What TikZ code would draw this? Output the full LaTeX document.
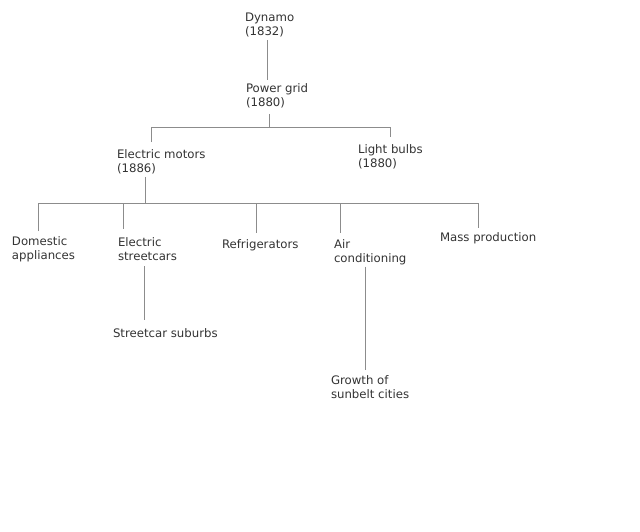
\documentclass[tikz,border=0pt]{standalone}
\usepackage{fontspec}
\setmainfont{DejaVu Sans}
\definecolor{txtgray}{HTML}{333333}
\definecolor{linegray}{HTML}{8C8C8C}
\begin{document}
\begin{tikzpicture}[x=0.75pt,y=-0.75pt,
  lbl/.style={anchor=north west,inner sep=0pt,outer sep=0pt,align=left,
    text=txtgray,font=\fontsize{8.8}{10.5}\selectfont},
  conn/.style={draw=linegray,line width=0.75pt}]
\useasboundingbox (0,0) rectangle (640,532);
% nodes (top-left corners)
\node[lbl] (dyn) at (245,13.3) {Dynamo\\(1832)};
\node[lbl] (pg)  at (246,83.3) {Power grid\\(1880)};
\node[lbl] (em)  at (117,149.3) {Electric motors\\(1886)};
\node[lbl] (lb)  at (358,144.3) {Light bulbs\\(1880)};
\node[lbl] (da)  at (12,236.3) {Domestic\\appliances};
\node[lbl] (es)  at (118,237.3) {Electric\\streetcars};
\node[lbl] (rf)  at (222,239.3) {Refrigerators};
\node[lbl] (ac)  at (334,239.3) {Air\\conditioning};
\node[lbl] (mp)  at (440,232.3) {Mass production};
\node[lbl] (ss)  at (113,328.3) {Streetcar suburbs};
\node[lbl] (gs)  at (331,375.3) {Growth of\\sunbelt cities};
% junction rows
\coordinate (barA) at (0,127);
\coordinate (barB) at (0,203);
% connectors
\draw[conn,shorten <=2.3pt,shorten >=2.4pt] (267,0 |- dyn.south) -- (267,0 |- pg.north);
\draw[conn,shorten <=4.6pt] (269,0 |- pg.south) -- (269,0 |- barA);
\draw[conn,shorten <=5.4pt,shorten >=5.4pt] (151,0 |- em.north) -- (151,0 |- barA) -- (390,0 |- barA) -- (390,0 |- lb.north);
\draw[conn,shorten <=2.3pt] (145,0 |- em.south) -- (145,0 |- barB);
\draw[conn,shorten <=3.9pt,shorten >=3.2pt] (38,0 |- da.north) -- (38,0 |- barB) -- (478,0 |- barB) -- (478,0 |- mp.north);
\draw[conn,shorten >=6.2pt] (123,0 |- barB) -- (123,0 |- es.north);
\draw[conn,shorten >=4.7pt] (256,0 |- barB) -- (256,0 |- rf.north);
\draw[conn,shorten >=4.7pt] (340,0 |- barB) -- (340,0 |- ac.north);
\draw[conn,shorten <=4.3pt,shorten >=6.2pt] (144,0 |- es.south) -- (144,0 |- ss.north);
\draw[conn,shorten <=1.4pt,shorten >=3.9pt] (365,0 |- ac.south) -- (365,0 |- gs.north);
\end{tikzpicture}
\end{document}
